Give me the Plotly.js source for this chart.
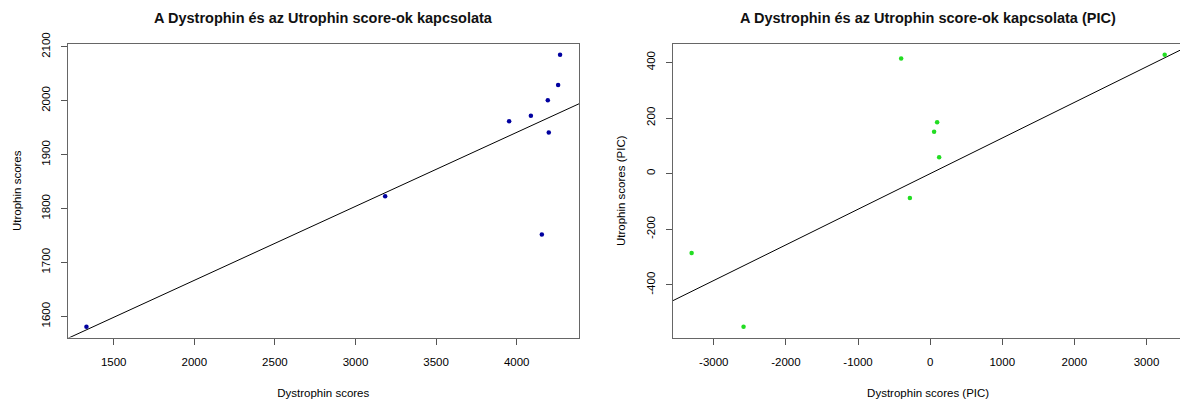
<!DOCTYPE html>
<html><head><meta charset="utf-8">
<script src="https://cdn.plot.ly/plotly-3.0.1.min.js"></script>
<style>html,body{margin:0;padding:0;overflow:hidden;background:#fff}#chart{width:1184px;height:403px}</style>
</head><body><div id="chart"></div>
<script>
// Raw scores
const dystrophinScores = [1331, 3184, 3953, 4088, 4193, 4199, 4156, 4257, 4269];
const utrophinScores   = [1581, 1823, 1962, 1972, 2001, 1941, 1752, 2029, 2085];
// Phylogenetically independent contrasts
const dystrophinPIC = [-3307, -2587, -402, -281, 55, 97, 125, 3252];
const utrophinPIC   = [-285, -550, 414, -88, 151, 185, 59, 427];

const title1 = "A Dystrophin és az Utrophin score-ok kapcsolata";
const title2 = "A Dystrophin és az Utrophin score-ok kapcsolata (PIC)";
const xTitle1 = "Dystrophin scores", yTitle1 = "Utrophin scores";
const xTitle2 = "Dystrophin scores (PIC)", yTitle2 = "Utrophin scores (PIC)";

const xTicks1 = [1500, 2000, 2500, 3000, 3500, 4000];
const yTicks1 = [1600, 1700, 1800, 1900, 2000, 2100];
const xTicks2 = [-3000, -2000, -1000, 0, 1000, 2000, 3000];
const yTicks2 = [-400, -200, 0, 200, 400];

// R-style range: data range extended by 4% on each side
function rRange(a){const lo=Math.min(...a),hi=Math.max(...a),d=(hi-lo)*0.04;return [lo-d,hi+d];}
// ordinary least squares y = a + b x
function lm(x,y){const n=x.length,mx=x.reduce((s,v)=>s+v,0)/n,my=y.reduce((s,v)=>s+v,0)/n;
  let sxy=0,sxx=0;for(let i=0;i<n;i++){sxy+=(x[i]-mx)*(y[i]-my);sxx+=(x[i]-mx)**2;}
  const b=sxy/sxx;return {a:my-b*mx,b:b};}
// regression through the origin (PIC)
function lm0(x,y){let sxy=0,sxx=0;for(let i=0;i<x.length;i++){sxy+=x[i]*y[i];sxx+=x[i]*x[i];}return {a:0,b:sxy/sxx};}

const xr1=rRange(dystrophinScores), yr1=rRange(utrophinScores);
const xr2=rRange(dystrophinPIC), yr2=rRange(utrophinPIC);
const f1=lm(dystrophinScores,utrophinScores), f2=lm0(dystrophinPIC,utrophinPIC);

const W=1184,H=403;
const FONT="Liberation Sans, Arial, sans-serif";
const px=(a,b)=>[a/W,b/W];
const yDom=[(H-337.5)/H,(H-44)/H];

const traces=[
 {x:[xr1[0],xr1[1]],y:[f1.a+f1.b*xr1[0],f1.a+f1.b*xr1[1]],mode:'lines',line:{color:'#000',width:1},xaxis:'x',yaxis:'y',hoverinfo:'skip'},
 {x:dystrophinScores,y:utrophinScores,mode:'markers',marker:{color:'#0000A0',size:4.5},xaxis:'x',yaxis:'y'},
 {x:[xr2[0],xr2[1]],y:[f2.a+f2.b*xr2[0],f2.a+f2.b*xr2[1]],mode:'lines',line:{color:'#000',width:1},xaxis:'x2',yaxis:'y2',hoverinfo:'skip'},
 {x:dystrophinPIC,y:utrophinPIC,mode:'markers',marker:{color:'#22DD22',size:4.5},xaxis:'x2',yaxis:'y2'}
];

function ax(extra){return Object.assign({showgrid:false,zeroline:false,showline:true,linecolor:'#666',linewidth:1,
  ticks:'outside',ticklen:6,tickcolor:'#555',tickfont:{family:FONT,size:11.5,color:'#000'},fixedrange:true},extra);}

const layout={
 width:W,height:H,margin:{l:0,r:0,t:0,b:0},paper_bgcolor:'#fff',plot_bgcolor:'#fff',showlegend:false,
 font:{family:FONT,color:'#000'},
 xaxis:ax({domain:px(67.5,579),range:xr1,anchor:'y',mirror:true,tickvals:xTicks1,ticktext:xTicks1.map(String),ticklabelstandoff:8,
   title:{text:xTitle1,font:{family:FONT,size:11.5},standoff:21}}),
 yaxis:ax({domain:yDom,range:yr1,anchor:'x',mirror:true,tickvals:yTicks1,ticktext:yTicks1.map(String),tickangle:-90,ticklabelstandoff:6,
   title:{text:yTitle1,font:{family:FONT,size:11.5},standoff:15}}),
 xaxis2:ax({domain:px(672.7,1183.6),range:xr2,anchor:'y2',mirror:true,tickvals:xTicks2,ticktext:xTicks2.map(String),ticklabelstandoff:8,
   title:{text:xTitle2,font:{family:FONT,size:11.5},standoff:21}}),
 yaxis2:ax({domain:yDom,range:yr2,anchor:'x2',mirror:true,tickvals:yTicks2,ticktext:yTicks2.map(String),tickangle:-90,ticklabelstandoff:6,
   title:{text:yTitle2,font:{family:FONT,size:11.5},standoff:17}}),
 annotations:[
  {text:'<b>'+title1+'</b>',x:(67.5+579)/2/W,y:(H-18)/H,xref:'paper',yref:'paper',xanchor:'center',yanchor:'middle',showarrow:false,font:{family:FONT,size:14.5,color:'#111'}},
  {text:'<b>'+title2+'</b>',x:(672.7+1183.6)/2/W,y:(H-18)/H,xref:'paper',yref:'paper',xanchor:'center',yanchor:'middle',showarrow:false,font:{family:FONT,size:14.5,color:'#111'}}
 ]
};
Plotly.newPlot('chart',traces,layout,{displayModeBar:false,staticPlot:true});
</script></body></html>
